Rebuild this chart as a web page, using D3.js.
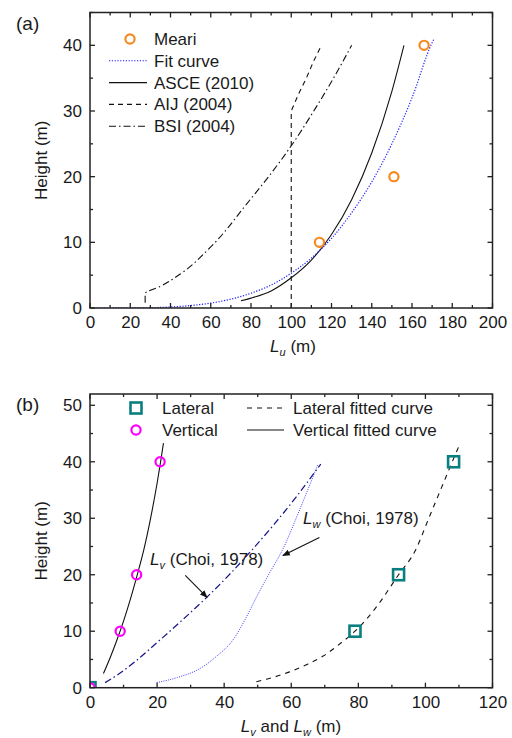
<!DOCTYPE html>
<html><head><meta charset="utf-8">
<script src="https://cdn.jsdelivr.net/npm/d3@7"></script>
<style>
html,body{margin:0;padding:0;background:#fff;}
text{font-family:"Liberation Sans",Arial,sans-serif;fill:#1a1a1a;}
</style></head>
<body>
<svg id="chart" width="512" height="738"></svg>
<script>
// ---------- Panel (a) data ----------
const meariL = [114, 151, 166];
const meariH = [10, 20, 40];
const fitL = [0, 20, 40, 50, 60, 70, 80, 90, 100, 110, 120, 130, 140, 150, 160, 170, 171];
const fitH = [0, 0.01, 0.16, 0.37, 0.75, 1.35, 2.25, 3.5, 5.3, 7.6, 10.6, 14.5, 19.2, 25, 32, 40.4, 41];
const asceL = [75, 80, 90, 100, 110, 120, 130, 140, 150, 156];
const asceH = [1.1, 1.5, 2.6, 4.6, 7.3, 11.2, 16.5, 23.6, 33, 40];
const aijL = [100, 100, 103.5, 107.5, 111, 115];
const aijH = [0, 30, 32.5, 35, 37.5, 40];
const bsiL = [27.4, 27.4, 35, 45, 60, 78, 90, 100, 112, 121, 130];
const bsiH = [0.8, 2.2, 3.3, 5.2, 9.3, 15.9, 20.5, 24.7, 30.4, 35, 40];
const aXTicks = [0, 20, 40, 60, 80, 100, 120, 140, 160, 180, 200];
const aYTicks = [0, 10, 20, 30, 40];

// ---------- Panel (b) data ----------
const latL = [0, 79, 92, 108.4];
const latH = [0, 10, 20, 40];
const verL = [0, 9, 13.9, 20.9];
const verH = [0, 10, 20, 40];
const verFitL = [4, 6, 8, 10, 12, 14, 16, 18, 20, 21, 21.9];
const verFitH = [2.5, 5.3, 8.4, 11.8, 15.6, 19.8, 24.3, 29.8, 36.2, 39.8, 43.3];
const latFitL = [49.6, 55, 59.5, 65, 69.5, 75, 79, 85, 92, 97, 101, 104.5, 108, 110];
const latFitH = [1.06, 1.9, 2.8, 4.2, 5.6, 8, 10, 14, 20, 24.3, 30, 35, 40, 42.8];
const choiVL = [4.5, 8, 13.4, 20, 27, 34.8, 42, 48, 55, 61.5, 68.8];
const choiVH = [0.9, 2.2, 4.6, 8, 11.7, 16, 20.3, 24.2, 29, 33.8, 39.6];
const choiWL = [19.9, 26, 32.8, 37.8, 42.8, 46, 49.6, 53.5, 57.3, 62.5, 68];
const choiWH = [0.9, 1.8, 3.4, 5.6, 8.6, 11.8, 16, 20.3, 24.3, 31.5, 39.6];
const bXTicks = [0, 20, 40, 60, 80, 100, 120];
const bYTicks = [0, 10, 20, 30, 40, 50];

const svg = d3.select("#chart");
const FS = 17;

function zip(xs, ys){ return xs.map((x,i)=>[x, ys[i]]); }

function makePanel(cfg){
  const g = svg.append("g");
  const x = d3.scaleLinear().domain(cfg.xDom).range([cfg.left, cfg.right]);
  const y = d3.scaleLinear().domain(cfg.yDom).range([cfg.bottom, cfg.top]);
  const clipId = "clip" + cfg.id;
  svg.append("clipPath").attr("id", clipId).append("rect")
    .attr("x", cfg.left).attr("y", cfg.top)
    .attr("width", cfg.right - cfg.left).attr("height", cfg.bottom - cfg.top);
  const plot = g.append("g").attr("clip-path", `url(#${clipId})`);
  const xMinor = d3.range(cfg.xDom[0], cfg.xDom[1] + 0.001, cfg.xMinor);
  const yMinor = d3.range(cfg.yDom[0], Math.floor(cfg.yDom[1]) + 0.001, cfg.yMinor);
  const isMaj = (v, t) => t.some(m => Math.abs(m - v) < 1e-6);
  const axCol = "#222";
  // ticks (inward)
  const tickG = g.append("g").attr("stroke", axCol).attr("stroke-width", 1.3);
  xMinor.forEach(v => {
    const L = isMaj(v, cfg.xTicks) ? 5 : 3;
    tickG.append("line").attr("x1", x(v)).attr("x2", x(v)).attr("y1", cfg.bottom).attr("y2", cfg.bottom - L);
    tickG.append("line").attr("x1", x(v)).attr("x2", x(v)).attr("y1", cfg.top).attr("y2", cfg.top + L);
  });
  yMinor.forEach(v => {
    const L = isMaj(v, cfg.yTicks) ? 5 : 3;
    tickG.append("line").attr("y1", y(v)).attr("y2", y(v)).attr("x1", cfg.left).attr("x2", cfg.left + L);
    tickG.append("line").attr("y1", y(v)).attr("y2", y(v)).attr("x1", cfg.right).attr("x2", cfg.right - L);
  });
  // tick labels via d3 axes
  const xa = g.append("g").attr("transform", `translate(0,${cfg.bottom})`)
    .call(d3.axisBottom(x).tickValues(cfg.xTicks).tickSize(0).tickPadding(8).tickFormat(d3.format("d")));
  xa.select(".domain").remove();
  xa.selectAll("text").attr("font-size", FS).attr("font-family", "Liberation Sans, Arial, sans-serif").attr("fill", "#1a1a1a").attr("dy", "0.71em");
  const ya = g.append("g").attr("transform", `translate(${cfg.left},0)`)
    .call(d3.axisLeft(y).tickValues(cfg.yTicks).tickSize(0).tickPadding(8).tickFormat(d3.format("d")));
  ya.select(".domain").remove();
  ya.selectAll("text").attr("font-size", FS).attr("font-family", "Liberation Sans, Arial, sans-serif").attr("fill", "#1a1a1a");
  // frame
  g.append("rect").attr("x", cfg.left).attr("y", cfg.top)
    .attr("width", cfg.right - cfg.left).attr("height", cfg.bottom - cfg.top)
    .attr("fill", "none").attr("stroke", axCol).attr("stroke-width", 1.5);
  // y title
  g.append("text").attr("transform", `translate(47,${(cfg.top + cfg.bottom)/2}) rotate(-90)`)
    .attr("text-anchor", "middle").attr("font-size", FS).text("Height (m)");
  // panel label
  g.append("text").attr("x", 16).attr("y", cfg.top + 17).attr("font-size", 19).text(cfg.label);
  return {g, plot, x, y};
}

const line = (x, y, curve) => d3.line().x(d => x(d[0])).y(d => y(d[1])).curve(curve || d3.curveMonotoneY);

// ================= Panel (a) =================
const A = makePanel({id:"a", left:90, right:492.5, top:12.5, bottom:308,
  xDom:[0,200], yDom:[0,45], xTicks:aXTicks, yTicks:aYTicks, xMinor:10, yMinor:5, label:"(a)"});

A.plot.append("path").datum(zip(bsiL, bsiH)).attr("d", line(A.x, A.y, d3.curveMonotoneY))
  .attr("fill","none").attr("stroke","#111").attr("stroke-width",1.1).attr("stroke-dasharray","7,3,1.5,3");
A.plot.append("path").datum(zip(aijL, aijH)).attr("d", line(A.x, A.y, d3.curveLinear))
  .attr("fill","none").attr("stroke","#111").attr("stroke-width",1.1).attr("stroke-dasharray","5,4");
A.plot.append("path").datum(zip(asceL, asceH)).attr("d", line(A.x, A.y, d3.curveMonotoneX))
  .attr("fill","none").attr("stroke","#111").attr("stroke-width",1.1);
A.plot.append("path").datum(zip(fitL, fitH)).attr("d", line(A.x, A.y, d3.curveMonotoneX))
  .attr("fill","none").attr("stroke","#1a1aff").attr("stroke-width",1.2).attr("stroke-dasharray","1.2,1.6");
A.plot.selectAll("circle.meari").data(zip(meariL, meariH)).enter().append("circle")
  .attr("cx", d => A.x(d[0])).attr("cy", d => A.y(d[1])).attr("r", 4.6)
  .attr("fill","none").attr("stroke","#f7891f").attr("stroke-width",2.2);

// legend (a)
const legA = A.g.append("g");
const legAItems = [
  {t:"Meari", type:"circle"},
  {t:"Fit curve", stroke:"#1a1aff", dash:"1.2,1.6"},
  {t:"ASCE (2010)", stroke:"#111", dash:null},
  {t:"AIJ (2004)", stroke:"#111", dash:"5,4"},
  {t:"BSI (2004)", stroke:"#111", dash:"7,3,1.5,3"}
];
legAItems.forEach((it, i) => {
  const yy = 39 + i * 21.8;
  if (it.type === "circle") {
    legA.append("circle").attr("cx", 130).attr("cy", yy).attr("r", 4.6)
      .attr("fill","none").attr("stroke","#f7891f").attr("stroke-width",2.2);
  } else {
    const l = legA.append("line").attr("x1",109).attr("x2",147).attr("y1",yy).attr("y2",yy)
      .attr("stroke", it.stroke).attr("stroke-width", 1.1);
    if (it.dash) l.attr("stroke-dasharray", it.dash);
  }
  legA.append("text").attr("x",154).attr("y",yy+6).attr("font-size",FS).text(it.t);
});

// x title (a)
const xtA = A.g.append("text").attr("x", 293).attr("y", 352).attr("text-anchor","middle").attr("font-size",FS);
xtA.append("tspan").attr("font-style","italic").text("L");
xtA.append("tspan").attr("font-style","italic").attr("font-size",11).attr("dy",4).text("u");
xtA.append("tspan").attr("dy",-4).text(" (m)");

// ================= Panel (b) =================
const B = makePanel({id:"b", left:90, right:492.5, top:394, bottom:687.7,
  xDom:[0,120], yDom:[0,52], xTicks:bXTicks, yTicks:bYTicks, xMinor:10, yMinor:5, label:"(b)"});

B.plot.append("path").datum(zip(choiWL, choiWH)).attr("d", line(B.x, B.y, d3.curveMonotoneX))
  .attr("fill","none").attr("stroke","#3b3bff").attr("stroke-width",1).attr("stroke-dasharray","1,1.3");
B.plot.append("path").datum(zip(choiVL, choiVH)).attr("d", line(B.x, B.y, d3.curveMonotoneX))
  .attr("fill","none").attr("stroke","#14148a").attr("stroke-width",1.2).attr("stroke-dasharray","7,3,1.5,3");
B.plot.append("path").datum(zip(verFitL, verFitH)).attr("d", line(B.x, B.y, d3.curveMonotoneX))
  .attr("fill","none").attr("stroke","#111").attr("stroke-width",1.1);
B.plot.append("path").datum(zip(latFitL, latFitH)).attr("d", line(B.x, B.y, d3.curveMonotoneX))
  .attr("fill","none").attr("stroke","#111").attr("stroke-width",1.1).attr("stroke-dasharray","5,5");
B.plot.selectAll("rect.lat").data(zip(latL, latH)).enter().append("rect")
  .attr("x", d => B.x(d[0]) - 5.5).attr("y", d => B.y(d[1]) - 5.5).attr("width", 11).attr("height", 11)
  .attr("fill","none").attr("stroke","#0a7f7f").attr("stroke-width",2.6);
B.plot.selectAll("circle.ver").data(zip(verL, verH)).enter().append("circle")
  .attr("cx", d => B.x(d[0])).attr("cy", d => B.y(d[1])).attr("r", 4.6)
  .attr("fill","none").attr("stroke","#ff00ff").attr("stroke-width",2.2);

// annotations (b)
svg.append("defs").append("marker").attr("id","arr").attr("viewBox","0 0 10 10")
  .attr("refX",9).attr("refY",5).attr("markerWidth",7).attr("markerHeight",7).attr("orient","auto")
  .append("path").attr("d","M0,1 L10,5 L0,9 Z").attr("fill","#111");
const annV = B.g.append("text").attr("x", B.x(17.9)).attr("y", B.y(21.7)).attr("font-size",FS);
annV.append("tspan").attr("font-style","italic").text("L");
annV.append("tspan").attr("font-style","italic").attr("font-size",11).attr("dy",4).text("v");
annV.append("tspan").attr("dy",-4).text(" (Choi, 1978)");
B.g.append("line").attr("x1",B.x(28.4)).attr("y1",B.y(19.9)).attr("x2",B.x(34.9)).attr("y2",B.y(16.0))
  .attr("stroke","#111").attr("stroke-width",1.1).attr("marker-end","url(#arr)");
const annW = B.g.append("text").attr("x", B.x(63.5)).attr("y", B.y(29.0)).attr("font-size",FS);
annW.append("tspan").attr("font-style","italic").text("L");
annW.append("tspan").attr("font-style","italic").attr("font-size",11).attr("dy",4).text("w");
annW.append("tspan").attr("dy",-4).text(" (Choi, 1978)");
B.g.append("line").attr("x1",B.x(68.4)).attr("y1",B.y(26.6)).attr("x2",B.x(57.5)).attr("y2",B.y(23.4))
  .attr("stroke","#111").attr("stroke-width",1.1).attr("marker-end","url(#arr)");

// legend (b)
const legB = B.g.append("g");
legB.append("rect").attr("x",136-5.5).attr("y",408-5.5).attr("width",11).attr("height",11)
  .attr("fill","none").attr("stroke","#0a7f7f").attr("stroke-width",2.6);
legB.append("text").attr("x",162).attr("y",408+6).attr("font-size",FS).text("Lateral");
legB.append("circle").attr("cx",136).attr("cy",430).attr("r",4.6)
  .attr("fill","none").attr("stroke","#ff00ff").attr("stroke-width",2.2);
legB.append("text").attr("x",162).attr("y",430+6).attr("font-size",FS).text("Vertical");
legB.append("line").attr("x1",247).attr("x2",284).attr("y1",408).attr("y2",408)
  .attr("stroke","#111").attr("stroke-width",1.1).attr("stroke-dasharray","5,5");
legB.append("text").attr("x",293).attr("y",408+6).attr("font-size",FS).text("Lateral fitted curve");
legB.append("line").attr("x1",247).attr("x2",284).attr("y1",430).attr("y2",430)
  .attr("stroke","#111").attr("stroke-width",1.1);
legB.append("text").attr("x",293).attr("y",430+6).attr("font-size",FS).text("Vertical fitted curve");

// x title (b)
const xtB = B.g.append("text").attr("x", 291).attr("y", 732).attr("text-anchor","middle").attr("font-size",FS);
xtB.append("tspan").attr("font-style","italic").text("L");
xtB.append("tspan").attr("font-style","italic").attr("font-size",11).attr("dy",4).text("v");
xtB.append("tspan").attr("dy",-4).text(" and ");
xtB.append("tspan").attr("font-style","italic").text("L");
xtB.append("tspan").attr("font-style","italic").attr("font-size",11).attr("dy",4).text("w");
xtB.append("tspan").attr("dy",-4).text(" (m)");
</script>
</body></html>
